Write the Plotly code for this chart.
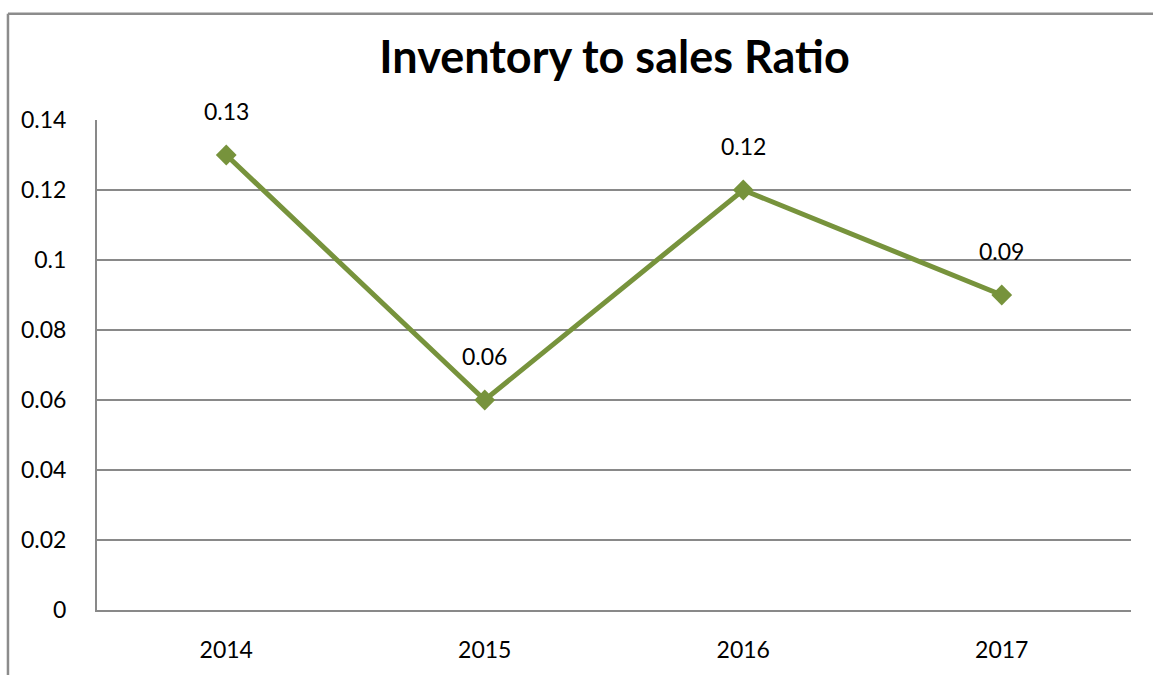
import plotly.graph_objects as go

years = ["2014", "2015", "2016", "2017"]
ratio = [0.13, 0.06, 0.12, 0.09]
label_text = ["0.13", "0.06", "0.12", "0.09"]
y_ticks = [0, 0.02, 0.04, 0.06, 0.08, 0.1, 0.12, 0.14]
y_tick_text = ["0", "0.02", "0.04", "0.06", "0.08", "0.1", "0.12", "0.14"]

GREEN = "#77933C"
GRID = "#898989"
FONT = "Lato, Calibri, Arial, sans-serif"

fig = go.Figure()
fig.add_trace(go.Scatter(
    x=years, y=ratio, mode="lines+markers",
    line=dict(color=GREEN, width=5),
    marker=dict(symbol="diamond", size=16, color=GREEN),
    hoverinfo="skip", showlegend=False,
))

for i, (y, t) in enumerate(zip(ratio, label_text)):
    fig.add_annotation(x=i, y=y, xref="x", yref="y", text=t, showarrow=False,
                       yshift=44, font=dict(family=FONT, size=23, color="#000000"))

# outer chart frame (only left and top edges fall inside the page)
fig.add_shape(type="line", xref="paper", yref="paper",
              x0=-0.0861, x1=1.03, y0=1.217, y1=1.217,
              line=dict(color="#8C8C8C", width=2.5))
fig.add_shape(type="line", xref="paper", yref="paper",
              x0=-0.0861, x1=-0.0861, y0=-0.2, y1=1.217,
              line=dict(color="#8C8C8C", width=2.5))

fig.update_layout(
    width=1153, height=675,
    margin=dict(l=97, r=22, t=120, b=62),
    paper_bgcolor="white", plot_bgcolor="white",
    title=dict(text="<b>Inventory to sales Ratio</b>", x=0.533, xanchor="center",
               y=0.915, yanchor="middle",
               font=dict(family=FONT, size=45, color="#000000")),
    font=dict(family=FONT, size=23, color="#000000"),
    xaxis=dict(type="category", range=[-0.5, 3.5], showgrid=False,
               showline=True, linecolor=GRID, linewidth=2, ticks="",
               ticklabelstandoff=18, tickfont=dict(size=23)),
    yaxis=dict(range=[0, 0.14], tickvals=y_ticks, ticktext=y_tick_text,
               showgrid=True, gridcolor=GRID, gridwidth=1.5,
               showline=True, linecolor=GRID, linewidth=2, ticks="",
               zeroline=False, ticklabelstandoff=24, tickfont=dict(size=23)),
)

fig.write_html("out.html")
